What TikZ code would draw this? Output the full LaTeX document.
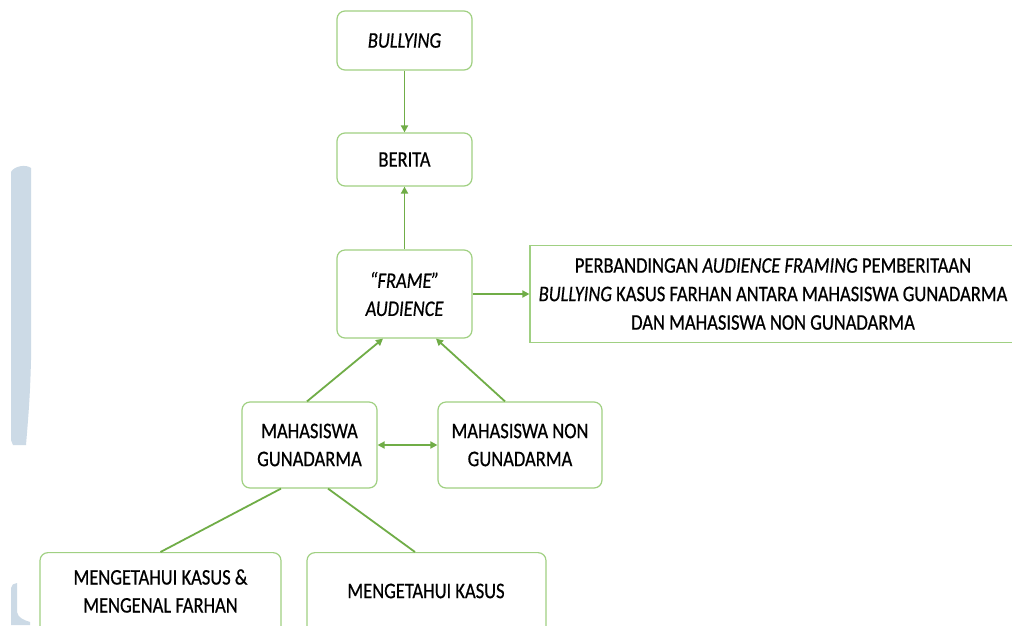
\documentclass[tikz,border=0pt]{standalone}
\usepackage{fontspec}
\usepackage{graphicx}
\setmainfont{Carlito}[FakeBold=0.7]
\usetikzlibrary{arrows.meta,calc}
\definecolor{boxgreen}{RGB}{160,208,130}
\definecolor{arrgreen}{RGB}{112,173,71}
\definecolor{wmblue}{RGB}{204,218,230}
\newcommand\tl[1]{\scalebox{1}[1.2]{#1}}
\tikzset{
  box/.style={draw=boxgreen, line width=1.2pt, rounded corners=8pt, align=center, font=\fontsize{18.5}{28}\selectfont, inner sep=0pt},
  sqbox/.style={draw=boxgreen, line width=1.2pt, align=center, font=\fontsize{18.5}{28.5}\selectfont, inner sep=0pt},
  conn/.style={draw=arrgreen, line width=1.8pt},
  arr/.style={conn, -{Triangle[length=7pt,width=7pt]}},
  dblarr/.style={conn, {Triangle[length=7pt,width=7pt]}-{Triangle[length=7pt,width=7pt]}}
}
\begin{document}
\begin{tikzpicture}[x=1pt,y=-1pt]
\useasboundingbox (0,0) rectangle (1012,625);
\clip (0,0) rectangle (1012,625);
\fill[white] (0,0) rectangle (1012,625);
% faint watermark band at left
\fill[wmblue] (11,172) .. controls (14,166) and (26,164) .. (31,168) -- (31,360) .. controls (30,400) and (28,420) .. (26,445) -- (13,445) -- (11,440) -- cycle;
\fill[wmblue] (11,588) .. controls (11,585) and (14,583) .. (17,583) -- (17,612) .. controls (18,618) and (24,620) .. (30,622) -- (30,625) -- (11,625) -- cycle;

\node[box, minimum width=135pt, minimum height=59pt] (bul) at (404.5,40.5) {\tl{\itshape BULLYING}};
\node[box, minimum width=135pt, minimum height=53pt] (ber) at (404.5,159.5) {\tl{BERITA}};
\node[box, minimum width=135pt, minimum height=88pt] (fa) at (404.5,294) {\tl{\itshape “FRAME”}\\\tl{\itshape AUDIENCE}};
\node[sqbox, minimum width=486pt, minimum height=97pt] (per) at (773,294) {\tl{PERBANDINGAN \textit{AUDIENCE FRAMING} PEMBERITAAN}\\\tl{\textit{BULLYING} KASUS FARHAN ANTARA MAHASISWA GUNADARMA}\\\tl{DAN MAHASISWA NON GUNADARMA}};
\node[box, minimum width=135pt, minimum height=86pt] (mg) at (309.5,445) {\tl{MAHASISWA}\\\tl{GUNADARMA}};
\node[box, minimum width=164pt, minimum height=86pt] (mng) at (520,445) {\tl{MAHASISWA NON}\\\tl{GUNADARMA}};
\node[box, minimum width=241pt, minimum height=100pt, anchor=north] (mkf) at (160.5,552) {\rule{0pt}{0pt}};
\node[box, minimum width=239pt, minimum height=100pt, anchor=north] (mk) at (426.5,552) {\rule{0pt}{0pt}};
\node[align=center, font=\fontsize{18.5}{28}\selectfont, inner sep=0pt] (mkft) at (160.5,591) {\tl{MENGETAHUI KASUS \&}\\\tl{MENGENAL FARHAN}};
\node[align=center, font=\fontsize{18.5}{28}\selectfont, inner sep=0pt] (mkt) at (426,591) {\tl{MENGETAHUI KASUS}};

\draw[arr] (bul.south) -- (ber.north);
\draw[arr] (fa.north) -- (ber.south);
\draw[arr] (fa.east) -- (per.west);
\draw[arr] ([xshift=-2.5pt]mg.north) -- ([xshift=-21.5pt]fa.south);
\draw[arr] ([xshift=-15pt]mng.north) -- ([xshift=31.5pt]fa.south);
\draw[dblarr] (mg.east) -- (mng.west);
\draw[conn] ([xshift=-28.5pt]mg.south) -- ([xshift=0pt]mkf.north);
\draw[conn] ([xshift=18.5pt]mg.south) -- ([xshift=-11.5pt]mk.north);
\end{tikzpicture}
\end{document}
